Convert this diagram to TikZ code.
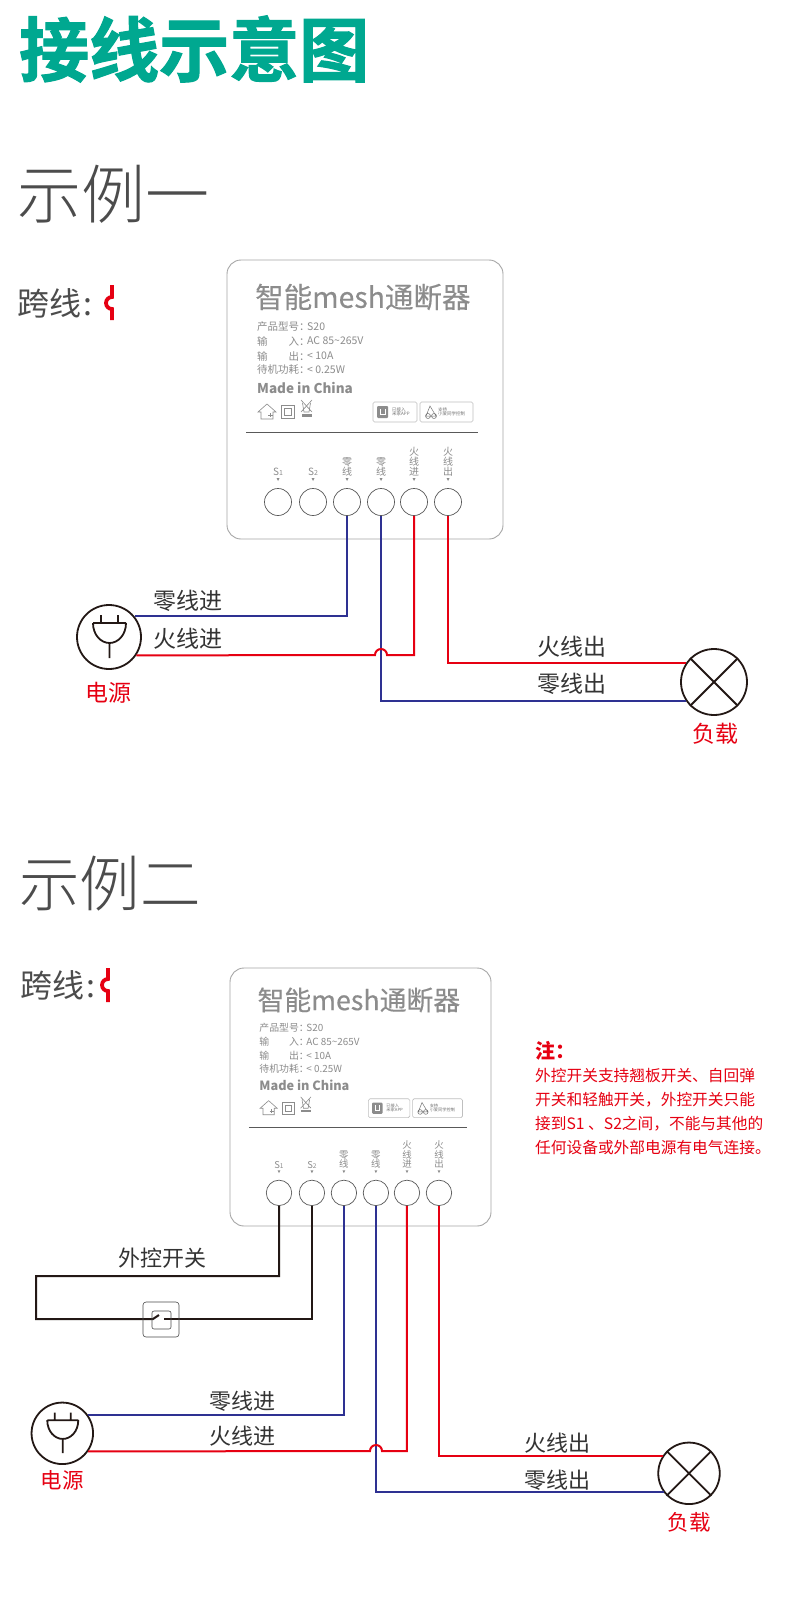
\documentclass[tikz,border=0pt]{standalone}
\usepackage{fontspec}
\setmainfont{Noto Sans CJK SC}
\newfontfamily\heavyfont[FakeBold=1.6]{Noto Sans CJK SC Bold}
\newfontfamily\lightfont{Noto Sans CJK SC Light}
\newfontfamily\medfont[FakeBold=0.25]{Noto Sans CJK SC}
\definecolor{hdgreen}{HTML}{00A890}
\definecolor{wireblue}{HTML}{2E3192}
\definecolor{wirered}{HTML}{E60012}
\definecolor{wirebrown}{HTML}{231815}
\definecolor{facegray}{HTML}{8C8C8C}
\newcommand{\fs}[1]{\fontsize{#1}{#1}\selectfont}
\tikzset{
	panel/.style={draw=black!35,line width=0.9pt,rounded corners=14pt,inner sep=0pt},
	terminal/.style={circle,draw=black!65,line width=0.7pt,inner sep=0pt,minimum size=27pt},
	speclabel/.style={anchor=west,inner sep=0pt,text=facegray,font=\fs{10.5}},
	tag/.style={anchor=south,inner sep=0pt,align=center,text=facegray,font=\fs{10}},
	badge/.style={draw=black!25,line width=0.6pt,rounded corners=1.5pt},
	wirelabel/.style={inner sep=0pt,text=black!80,font=\fs{23}},
	smalllabel/.style={inner sep=0pt,text=black!80,font=\fs{22}},
	redlabel/.style={inner sep=0pt,text=wirered,font=\fs{23}},
	smallred/.style={inner sep=0pt,text=wirered,font=\fs{21.5}},
	blueline/.style={draw=wireblue,line width=2pt},
	redline/.style={draw=wirered,line width=2pt},
	brownline/.style={draw=wirebrown,line width=2pt},
	symbolround/.style={circle,draw=wirebrown,line width=1.8pt,inner sep=0pt}
}
% panel print, written in the coordinates of the first example
\newcommand{\panelface}[1]{
\node[inner sep=0pt,anchor=west,text=black!45,font=\medfont\fs{28.5}] (#1title) at (255,297) {智能mesh通断器};
\node[speclabel] (#1la) at (257,327) {产品型号：};
\node[speclabel] (#1lb) at (257,341) {输\hspace{2em}入：};
\node[speclabel] (#1lc) at (257,356) {输\hspace{2em}出：};
\node[speclabel] (#1ld) at (257,370) {待机功耗：};
\node[speclabel] (#1va) at (307,327) {S20};
\node[speclabel] (#1vb) at (307,341) {AC 85\textasciitilde 265V};
\node[speclabel] (#1vc) at (307,356) {< 10A};
\node[speclabel] (#1vd) at (307,370) {< 0.25W};
\node[anchor=west,inner sep=0pt,text=facegray,font=\bfseries\fs{13.5}] (#1made) at (257,388) {Made in China};
% little marks
\draw[facegray,line width=0.6pt] (258,412) -- (267,404) -- (276,412) -- (273,412) -- (273,419) -- (261,419) -- (261,412) -- cycle;
\draw[facegray,line width=0.6pt] (268,415) -- (273,415) (270,413) -- (270,417);
\draw[facegray,line width=0.6pt] (281.5,405.5) rectangle (294,418);
\draw[facegray,line width=0.6pt] (284.5,408.5) rectangle (291,415);
\draw[facegray,line width=0.6pt] (301,400) -- (312,412) (312,400) -- (301,412) (302.5,403) -- (304,412) -- (309,412) -- (310.5,403);
\fill[facegray] (301.5,414) rectangle (312,416.5);
\draw[badge] (373,402) rectangle (417,422);
\draw[badge] (420,402) rectangle (473,422);
\fill[black!45,rounded corners=1pt] (377,406) rectangle (388,418);
\draw[white,line width=0.6pt] (380,409) -- (380,414) -- (385,414) -- (385,409);
\node[inner sep=0pt,text=black!55,font=\fs{4.5},align=left,anchor=west] (#1bada) at (392,412) {已接入\\米家APP};
\draw[black!55,line width=0.5pt] (430,406) -- (433,411) -- (436,416) -- (426,416) -- cycle (428,416) circle (2.5) (434,416) circle (2.5);
\node[inner sep=0pt,text=black!55,font=\fs{4.5},align=left,anchor=west] (#1badb) at (438,412) {支持\\小爱同学控制};
\draw[black!65,line width=0.8pt] (246,432) -- (478,432);
% terminals with their tags
\node[tag] at (278,476) {S{\fs{7}1}};
\node[tag] at (313,476) {S{\fs{7}2}};
\node[tag] at (347,476) {零\\线};
\node[tag] at (381,476) {零\\线};
\node[tag] at (414,476) {火\\线\\进};
\node[tag] at (448,476) {火\\线\\出};
\fill[facegray] (276.5,478) -- (279.5,478) -- (278,481) -- cycle;
\fill[facegray] (311.5,478) -- (314.5,478) -- (313,481) -- cycle;
\fill[facegray] (345.5,478) -- (348.5,478) -- (347,481) -- cycle;
\fill[facegray] (379.5,478) -- (382.5,478) -- (381,481) -- cycle;
\fill[facegray] (412.5,478) -- (415.5,478) -- (414,481) -- cycle;
\fill[facegray] (446.5,478) -- (449.5,478) -- (448,481) -- cycle;
\node[terminal] (#1s1) at (278,502) {};
\node[terminal] (#1s2) at (313,502) {};
\node[terminal] (#1na) at (347,502) {};
\node[terminal] (#1nb) at (381,502) {};
\node[terminal] (#1la2) at (414,502) {};
\node[terminal] (#1lb2) at (448,502) {};
}
% the plug in the source circle: centre x, centre y, scale
\newcommand{\plugmark}[3]{
\draw[wirebrown,line width=1.8pt,shift={(#1,#2)},scale=#3] (-8,-22) -- (-8,-14) (9,-22) -- (9,-14)
 (-16,-14) -- (17,-14) (-16,-14) .. controls (-16,-2) and (-8,6) .. (0.5,6) .. controls (9,6) and (17,-2) .. (17,-14) (0.5,6) -- (0.5,21);
}
\begin{document}
\begin{tikzpicture}[x=1pt,y=-1pt]
\useasboundingbox (0,0) rectangle (790,1616);
\fill[white] (0,0) rectangle (790,1616);
\node[inner sep=0pt,anchor=west,text=hdgreen,font=\heavyfont\fs{70}] (heading) at (19,49) {接线示意图};
%
\node[inner sep=0pt,anchor=west,text=black!70,font=\lightfont\fs{64}] (firsthead) at (17,194) {示例一};
\node[inner sep=0pt,anchor=west,text=black!70,font=\fs{32}] (crossa) at (17,303) {跨线\hspace{2pt}:};
\draw[wirered,line width=3.8pt] (112,285) -- (112,297) arc[start angle=270,end angle=90,radius=6] -- (112,320);
\node[panel,minimum width=276pt,minimum height=279pt] (panela) at (365,399.5) {};
\panelface{a}
\node[symbolround,minimum size=64pt] (srca) at (109,637) {};
\plugmark{109}{637}{1}
\node[symbolround,minimum size=66pt] (lampa) at (714,682) {};
\draw[wirebrown,line width=1.8pt] (lampa.45) -- (lampa.225) (lampa.135) -- (lampa.315);
\node[redlabel] (srcalabel) at (108,693) {电源};
\node[redlabel] (lampalabel) at (715,734) {负载};
\coordinate (hopa) at (381,655);
\draw[blueline] (ana.south) |- (srca.39);
\draw[blueline] (anb.south) |- (lampa.215);
\draw[redline] (srca.-34) -- ([xshift=-6]hopa) arc[start angle=180,end angle=360,radius=6] -- (ala2 |- hopa) -- (ala2.south);
\draw[redline] (alb2.south) |- (lampa.145);
\node[wirelabel] (nia) at (188,601) {零线进};
\node[wirelabel] (lia) at (188,639) {火线进};
\node[wirelabel] (loa) at (572,647) {火线出};
\node[wirelabel] (noa) at (572,684) {零线出};
%
\node[inner sep=0pt,anchor=west,text=black!70,font=\lightfont\fs{60.5}] (secondhead) at (19,884) {示例二};
\node[inner sep=0pt,anchor=west,text=black!70,font=\fs{32}] (crossb) at (20,985) {跨线\hspace{2pt}:};
\draw[wirered,line width=3.8pt] (108,968) -- (108,979) arc[start angle=270,end angle=90,radius=6] -- (108,1002);
\node[panel,minimum width=261pt,minimum height=258pt] (panelb) at (360.5,1097) {};
\begin{scope}[shift={(17.4,720.5)},scale=.941,transform shape]
\panelface{b}
\end{scope}
\node[symbolround,minimum size=61.5pt] (srcb) at (62.3,1433.3) {};
\plugmark{62.3}{1433.3}{.94}
\node[symbolround,minimum size=61.5pt] (lampb) at (689,1473.3) {};
\draw[wirebrown,line width=1.8pt] (lampb.45) -- (lampb.225) (lampb.135) -- (lampb.315);
\node[smallred] (srcblabel) at (62,1480) {电源};
\node[smallred] (lampblabel) at (689,1522) {负载};
\coordinate (hopb) at (376,1451);
\coordinate (wrapa) at (36,1276);
\coordinate (wrapb) at (36,1319);
\draw[brownline] (bs1.south) |- (wrapa) -- (wrapb) -- (153,1319) -- (159,1315);
\draw[brownline] (bs2.south) |- (164,1319);
\node[draw=black!70,line width=0.6pt,rounded corners=3pt,minimum width=36pt,minimum height=35pt,inner sep=0pt] (swouter) at (161,1319.5) {};
\node[draw=black!70,line width=0.6pt,rounded corners=2pt,minimum width=19pt,minimum height=18pt,inner sep=0pt] (swinner) at (161.5,1320) {};
\draw[blueline] (bna.south) |- (srcb.35);
\draw[blueline] (bnb.south) |- (lampb.217);
\draw[redline] (srcb.-35) -- ([xshift=-6]hopb) arc[start angle=180,end angle=360,radius=6] -- (bla2 |- hopb) -- (bla2.south);
\draw[redline] (blb2.south) |- (lampb.146);
\node[smalllabel] (swlabel) at (162,1258) {外控开关};
\node[smalllabel] (nib) at (242,1401) {零线进};
\node[smalllabel] (lib) at (242,1436) {火线进};
\node[smalllabel] (lob) at (557,1443) {火线出};
\node[smalllabel] (nob) at (557,1480) {零线出};
%
\node[inner sep=0pt,anchor=west,text=wirered,font=\bfseries\fs{20}] (notehead) at (535,1051) {注：};
\node[inner sep=0pt,anchor=north west,align=left,text=wirered,font=\fontsize{15.7}{23.7}\selectfont] (notetext) at (535,1068.5) {外控开关支持翘板开关、自回弹\\开关和轻触开关，外控开关只能\\接到S1 、S2之间，不能与其他的\\任何设备或外部电源有电气连接。};
\end{tikzpicture}
\end{document}
